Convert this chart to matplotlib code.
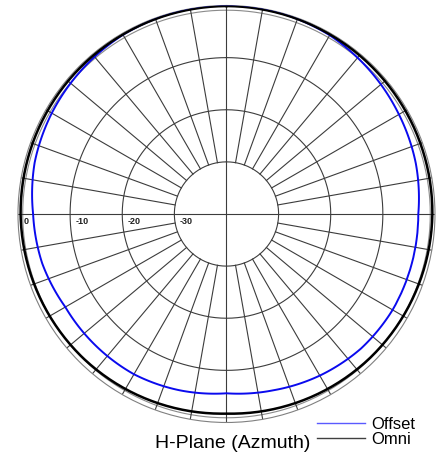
import numpy as np
import matplotlib.pyplot as plt

# azimuth angles (deg, clockwise from top) and gain in dB
offset_deg = [0, 15, 30, 45, 60, 75, 90, 105, 120, 135, 150, 165,
              180, 195, 210, 225, 240, 255, 270, 285, 300, 315, 330, 345]
offset_db = [0.0, -0.1, -0.4, -1.1, -1.8, -2.4, -3.2, -3.2, -3.2, -3.5, -4.2, -5.0,
             -5.6, -5.0, -4.5, -4.4, -4.3, -3.4, -2.9, -1.9, -1.3, -0.8, -0.3, -0.1]

omni_deg = [0, 45, 90, 135, 180, 225, 270, 315]
omni_db = [-0.1, -0.3, -0.5, -1.0, -1.7, -1.0, -0.5, -0.3]

ring_db = [-30, -20, -10]
ring_labels = ['0', '-10', '-20', '-30']

plt.rcParams['font.family'] = ['Liberation Sans', 'DejaVu Sans']

fig = plt.figure(figsize=(4.42, 4.54), dpi=100)
ax = fig.add_axes([0.0407, 0.0694, 0.9434, 0.9185], projection='polar')
ax.set_theta_zero_location('N')
ax.set_theta_direction(-1)
ax.set_rlim(-40, 0)
ax.grid(False)
ax.set_xticks([])
ax.set_yticks([])
ax.spines['polar'].set_color('#808080')
ax.spines['polar'].set_linewidth(0.8)

grid_c = '#3c3c3c'
full = np.linspace(0, 2 * np.pi, 361)
for r in ring_db:
    ax.plot(full, np.full_like(full, r), color=grid_c, lw=0.8, zorder=1)
ax.plot(full, np.full_like(full, -0.9), color='#8a8a8a', lw=0.8, zorder=1)

for a in range(0, 360, 10):
    t = np.deg2rad(a)
    r0 = -40 if a % 90 == 0 else -30
    ax.plot([t, t], [r0, 0], color=grid_c, lw=0.8, zorder=1)

# dB labels along the left horizontal axis
for lab, r in zip(ring_labels, [0, -10, -20, -30]):
    ax.annotate(lab, xy=(np.deg2rad(270), r - 1.0), xytext=(0, -2),
                textcoords='offset points', ha='left', va='top',
                fontsize=6.5, fontweight='bold', color='#202020')

th_off = np.deg2rad(offset_deg + [360])
r_off = offset_db + [offset_db[0]]
th_omni = np.deg2rad(omni_deg + [360])
r_omni = omni_db + [omni_db[0]]

l_off, = ax.plot(th_off, r_off, color='#0a0aee', lw=1.4, zorder=3, label='Offset')
l_omni, = ax.plot(th_omni, r_omni, color='black', lw=1.8, zorder=4, label='Omni')
# draw segments as arcs in polar space
for ln in (l_off, l_omni):
    ln._path._interpolation_steps = 60
    ln.recache(always=True)

leg = fig.legend(handles=[l_off, l_omni], loc='upper left',
                 bbox_to_anchor=(317 / 442, (454 - 417) / 454),
                 frameon=False, fontsize=12, handlelength=2.9,
                 handletextpad=0.35, labelspacing=0.0, borderpad=0,
                 borderaxespad=0)
for ln, c in zip(leg.get_lines(), ['#5a5aff', '#404040']):
    ln.set_linewidth(1.0)
    ln.set_color(c)

fig.text(155 / 442, (454 - 443) / 454, 'H-Plane (Azmuth)', fontsize=14,
         ha='left', va='center')

fig.savefig('out.png', dpi=100)
